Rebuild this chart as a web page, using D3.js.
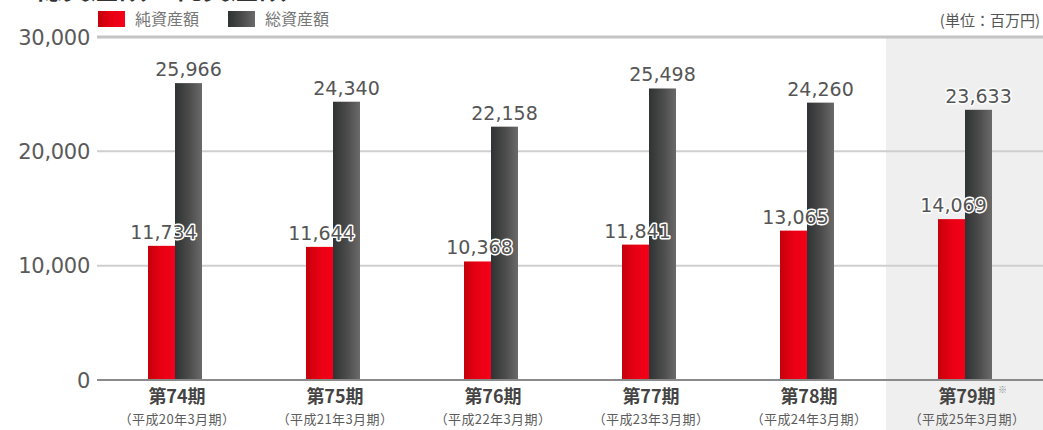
<!DOCTYPE html>
<html><head><meta charset="utf-8">
<script src="https://cdn.jsdelivr.net/npm/d3@7"></script>
<style>
html,body{margin:0;padding:0;background:#fff;}
svg{display:block;}
</style></head>
<body>
<svg id="c" width="1043" height="430"></svg>
<script>
const periods = ["第74期","第75期","第76期","第77期","第78期","第79期"];
const subLabels = ["（平成20年3月期）","（平成21年3月期）","（平成22年3月期）","（平成23年3月期）","（平成24年3月期）","（平成25年3月期）"];
const netAssets = [11734, 11644, 10368, 11841, 13065, 14069];
const totalAssets = [25966, 24340, 22158, 25498, 24260, 23633];
const yTicks = [0, 10000, 20000, 30000];
const seriesNames = ["純資産額","総資産額"];
const highlighted = "第79期";

const svg = d3.select("#c");
const W = 1043, H = 430;
const y = d3.scaleLinear().domain([0, 30000]).range([380, 37]);
const x = d3.scaleBand().domain(periods).range([96, 1044]).paddingInner(0).paddingOuter(0);
const barW = 27;

const defs = svg.append("defs");
const gr = defs.append("linearGradient").attr("id","gRed").attr("x1","0").attr("x2","1").attr("y1","0").attr("y2","0");
gr.append("stop").attr("offset","0").attr("stop-color","#c4000c");
gr.append("stop").attr("offset","0.45").attr("stop-color","#e60012");
gr.append("stop").attr("offset","1").attr("stop-color","#f5001a");
const gg = defs.append("linearGradient").attr("id","gGray").attr("x1","0").attr("x2","1").attr("y1","0").attr("y2","0");
gg.append("stop").attr("offset","0").attr("stop-color","#2f3333");
gg.append("stop").attr("offset","0.5").attr("stop-color","#4a4a4a");
gg.append("stop").attr("offset","1").attr("stop-color","#6a6a6a");

// highlight band
svg.append("rect")
  .attr("x", x(highlighted)).attr("y", y(30000))
  .attr("width", W - x(highlighted)).attr("height", H - y(30000))
  .attr("fill", "#efefef");

// title (cut off at top, as in the reference)
svg.append("text").attr("x", 0).attr("y", -1)
  .attr("font-family","'Noto Sans CJK JP'").attr("font-size", 28).attr("font-weight","bold")
  .attr("fill","#333").text("■ 総資産額・純資産額");

// gridlines
svg.append("g").selectAll("line").data(yTicks.filter(d => d > 0)).join("line")
  .attr("x1", 97).attr("x2", W)
  .attr("y1", d => y(d)).attr("y2", d => y(d))
  .attr("stroke", d => d === 30000 ? "#c4c4c4" : "#cfcfcf")
  .attr("stroke-width", d => d === 30000 ? 3 : 2);

// y tick labels
svg.append("g").selectAll("text").data(yTicks).join("text")
  .attr("x", 90).attr("y", d => y(d)).attr("dy", "0.36em")
  .attr("text-anchor","end")
  .attr("font-family","'DejaVu Sans'").attr("font-size", 21)
  .attr("fill","#5a5a5a").attr("letter-spacing", "-0.3")
  .text(d => d3.format(",")(d));

// bars
const g = svg.append("g");
g.selectAll("rect.net").data(periods).join("rect").attr("class","net")
  .attr("x", d => x(d) + x.bandwidth()/2 - barW)
  .attr("y", (d,i) => y(netAssets[i]))
  .attr("width", barW)
  .attr("height", (d,i) => y(0) - y(netAssets[i]))
  .attr("fill","url(#gRed)");
g.selectAll("rect.tot").data(periods).join("rect").attr("class","tot")
  .attr("x", d => x(d) + x.bandwidth()/2)
  .attr("y", (d,i) => y(totalAssets[i]))
  .attr("width", barW)
  .attr("height", (d,i) => y(0) - y(totalAssets[i]))
  .attr("fill","url(#gGray)");

// baseline
svg.append("line").attr("x1", 97).attr("x2", W).attr("y1", y(0)).attr("y2", y(0))
  .attr("stroke","#8a8a8a").attr("stroke-width", 2);

// value labels
const fmt = d3.format(",");
function valLabels(data, dx) {
  svg.append("g").selectAll("text").data(periods).join("text")
    .attr("x", d => x(d) + x.bandwidth()/2 + dx)
    .attr("y", (d,i) => y(data[i]) - 7)
    .attr("text-anchor","middle")
    .attr("font-family","'DejaVu Sans'").attr("font-size", 19)
    .attr("fill","#555").attr("stroke","#fff").attr("stroke-width", 3)
    .attr("paint-order","stroke").attr("stroke-linejoin","round")
    .text((d,i) => fmt(data[i]));
}
valLabels(netAssets, -barW/2 + 2);
valLabels(totalAssets, barW/2);

// x-axis labels
svg.append("g").selectAll("text").data(periods).join("text")
  .attr("x", d => x(d) + x.bandwidth()/2 + 2).attr("y", 403)
  .attr("text-anchor","middle")
  .attr("font-family","'Noto Sans CJK JP'").attr("font-size", 18).attr("font-weight","bold")
  .attr("fill","#444").text(d => d);
svg.append("text")
  .attr("x", x(highlighted) + x.bandwidth()/2 + 33).attr("y", 393)
  .attr("font-family","'Noto Sans CJK JP'").attr("font-size", 9).attr("fill","#888").text("※");
svg.append("g").selectAll("text").data(periods).join("text")
  .attr("x", (d) => x(d) + x.bandwidth()/2 + 2).attr("y", 424)
  .attr("text-anchor","middle")
  .attr("font-family","'Noto Sans CJK JP'").attr("font-size", 13).attr("letter-spacing", "0.4")
  .attr("fill","#5c5c5c").text((d,i) => subLabels[i]);

// legend
const leg = svg.append("g");
const legX = [98, 228];
const legFill = ["url(#gRed)","url(#gGray)"];
seriesNames.forEach((s,i) => {
  leg.append("rect").attr("x", legX[i]).attr("y", 11).attr("width", 27).attr("height", 16).attr("fill", legFill[i]);
  leg.append("text").attr("x", legX[i] + 37).attr("y", 25)
    .attr("font-family","'Noto Sans CJK JP'").attr("font-size", 16)
    .attr("fill","#777").text(s);
});

// unit
svg.append("text").attr("x", 1040).attr("y", 26).attr("text-anchor","end")
  .attr("font-family","'Noto Sans CJK JP'").attr("font-size", 15)
  .attr("fill","#555").text("(単位：百万円)");
</script>
</body></html>
